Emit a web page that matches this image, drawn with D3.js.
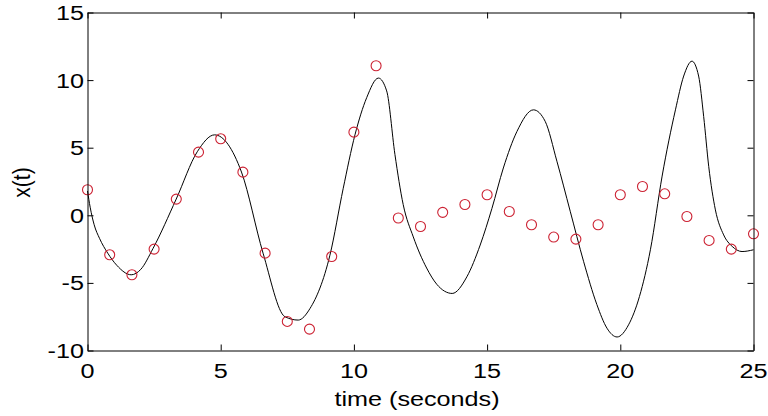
<!DOCTYPE html>
<html>
<head>
<meta charset="utf-8">
<script src="https://cdn.jsdelivr.net/npm/d3@7"></script>
<style>
  html, body { margin: 0; padding: 0; background: #fff; }
  svg { display: block; }
  text { font-family: Arial, "Liberation Sans", Helvetica, sans-serif; fill: #000; }
</style>
</head>
<body>
<svg id="chart" width="768" height="416"></svg>
<script>
// ---- data ----
const xTicks = [0, 5, 10, 15, 20, 25];
const yTicks = [-10, -5, 0, 5, 10, 15];
const xLabel = "time (seconds)";
const yLabel = "x(t)";

// sampled points (red circles)
const pointTimes = [0, 0.833, 1.667, 2.5, 3.333, 4.167, 5, 5.833, 6.667, 7.5, 8.333, 9.167, 10, 10.833, 11.667, 12.5, 13.333, 14.167, 15, 15.833, 16.667, 17.5, 18.333, 19.167, 20, 20.833, 21.667, 22.5, 23.333, 24.167, 25];
const pointValues = [1.89, -2.92, -4.4, -2.5, 1.2, 4.67, 5.66, 3.19, -2.8, -7.85, -8.42, -3.05, 6.15, 11.06, -0.2, -0.83, 0.22, 0.8, 1.52, 0.28, -0.7, -1.61, -1.76, -0.7, 1.52, 2.13, 1.59, -0.09, -1.86, -2.5, -1.37];

// continuous solution (black line)
const curveTimes = [0, 0.1, 0.25, 0.45, 0.76, 1.1, 1.64, 2.0, 2.46, 3.33, 4.12, 4.77, 5.78, 6.59, 7.41, 7.91, 8.35, 9.1, 9.6, 10.04, 10.48, 10.92, 11.23, 11.54, 11.85, 12.23, 12.73, 13.11, 13.69, 14.24, 14.74, 15.18, 15.61, 16.12, 16.74, 17.18, 17.62, 18.12, 18.62, 19.12, 19.5, 19.88, 20.31, 20.72, 21.13, 21.57, 22.07, 22.38, 22.69, 22.94, 23.13, 23.32, 23.57, 23.88, 24.2, 24.57, 25];
const curveValues = [1.8, 0.6, -0.7, -1.7, -2.8, -3.7, -4.4, -4.0, -2.45, 1.2, 4.7, 5.95, 3.2, -2.8, -7.5, -7.75, -6.9, -2.95, 2.0, 5.95, 8.7, 10.15, 9.2, 4.5, 0.8, -1.6, -3.9, -5.1, -5.78, -4.55, -2.2, 0.5, 3.5, 6.2, 7.8, 6.95, 4.0, 0.3, -3.4, -6.6, -8.35, -9.0, -8.1, -6.0, -2.55, 2.9, 7.8, 10.3, 11.4, 10.3, 7.3, 3.6, 0.4, -1.45, -2.3, -2.68, -2.55];

// ---- layout ----
const svg = d3.select("#chart");
const L = 87.5, R = 753.5, T = 12.5, B = 350.5;
const x = d3.scaleLinear().domain([0, 25]).range([L, R]);
const y = d3.scaleLinear().domain([-10, 15]).range([B, T]);
const fontSize = 21, stretch = 1.2, tickLen = 6;

// data line
const lineData = curveTimes.map((t, i) => [t, curveValues[i]]);
svg.append("path")
  .datum(lineData)
  .attr("fill", "none")
  .attr("stroke", "#000")
  .attr("stroke-width", 1)
  .attr("d", d3.line().x(d => x(d[0])).y(d => y(d[1])).curve(d3.curveMonotoneX));

// circles
svg.append("g").selectAll("circle")
  .data(pointTimes.map((t, i) => [t, pointValues[i]]))
  .join("circle")
  .attr("cx", d => x(d[0]))
  .attr("cy", d => y(d[1]))
  .attr("r", 5)
  .attr("fill", "none")
  .attr("stroke", "#cc2233")
  .attr("stroke-width", 1.1);

// axes with inward ticks on all four sides
const axB = d3.axisBottom(x).tickValues(xTicks).tickSizeInner(-tickLen).tickSizeOuter(0).tickFormat("");
const axT = d3.axisTop(x).tickValues(xTicks).tickSizeInner(-tickLen).tickSizeOuter(0).tickFormat("");
const axL = d3.axisLeft(y).tickValues(yTicks).tickSizeInner(-tickLen).tickSizeOuter(0).tickFormat("");
const axR = d3.axisRight(y).tickValues(yTicks).tickSizeInner(-tickLen).tickSizeOuter(0).tickFormat("");
[[axB, `translate(0,${B})`], [axT, `translate(0,${T})`], [axL, `translate(${L},0)`], [axR, `translate(${R},0)`]]
  .forEach(([ax, tr]) => {
    const g = svg.append("g").attr("transform", tr).call(ax);
    g.selectAll("line").attr("stroke", "#000").attr("stroke-width", 1);
    g.select(".domain").attr("stroke", "#000").attr("stroke-width", 1);
  });

// tick labels (horizontally stretched like the reference)
svg.append("g").selectAll("text")
  .data(xTicks)
  .join("text")
  .attr("transform", d => `translate(${x(d)},${378}) scale(${stretch},1)`)
  .attr("text-anchor", "middle")
  .attr("font-size", fontSize)
  .text(d => d);

svg.append("g").selectAll("text")
  .data(yTicks)
  .join("text")
  .attr("transform", d => `translate(${84},${y(d) + 7.5}) scale(${stretch},1)`)
  .attr("text-anchor", "end")
  .attr("font-size", fontSize)
  .text(d => d);

// axis labels
svg.append("text")
  .attr("transform", `translate(${417},${406}) scale(${stretch},1)`)
  .attr("text-anchor", "middle")
  .attr("font-size", fontSize)
  .text(xLabel);

svg.append("text")
  .attr("transform", `translate(${30},${182.5}) rotate(-90) scale(1,1.1)`)
  .attr("text-anchor", "middle")
  .attr("font-size", fontSize)
  .text(yLabel);
</script>
</body>
</html>
